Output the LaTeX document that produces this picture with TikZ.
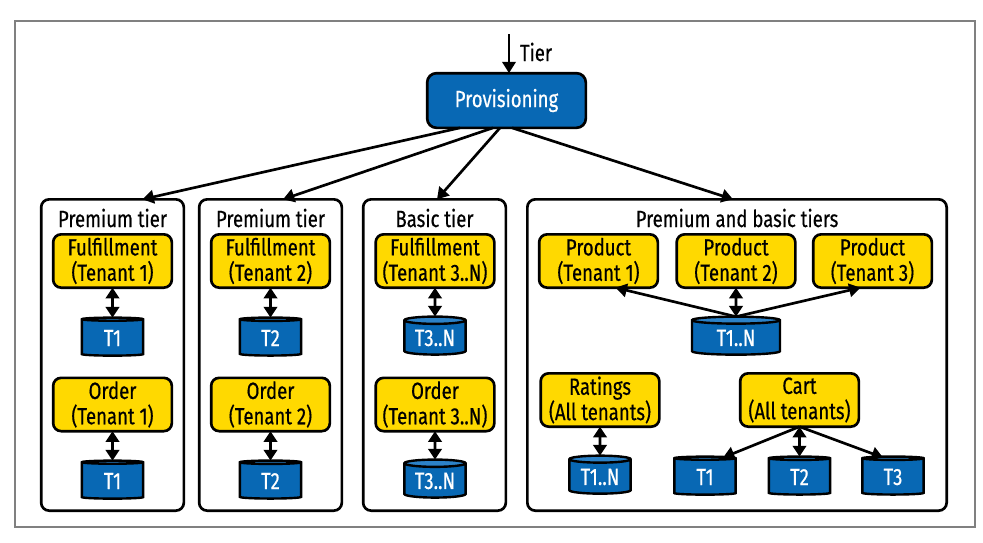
\documentclass[tikz,border=0pt]{standalone}
\usepackage{fontspec}
\setmainfont{Fira Sans}[FakeStretch=0.79,FakeBold=0.45]
\usetikzlibrary{arrows.meta,shapes.geometric,calc}
\definecolor{pblue}{RGB}{8,104,180}
\definecolor{ptop}{RGB}{44,130,200}
\definecolor{pyellow}{RGB}{255,217,0}
\definecolor{framegray}{RGB}{128,128,128}
\begin{document}
\begin{tikzpicture}[x=0.75pt,y=-0.75pt,
  font=\fontsize{17.6}{19}\selectfont,
  every node/.style={inner sep=0pt, outer sep=0pt},
  grp/.style={draw=black, line width=2pt, rounded corners=6pt, fill=white, minimum height=233.5pt},
  ybox/.style={draw=black, line width=2pt, rounded corners=6pt, fill=pyellow, align=center, minimum width=89pt, minimum height=40pt},
  bbox/.style={draw=black, line width=2pt, rounded corners=7pt, fill=pblue, text=white, minimum width=119pt, minimum height=41pt},
  cyl/.style={cylinder, shape border rotate=90, draw=black, line width=1.8pt, cylinder uses custom fill, cylinder body fill=pblue, cylinder end fill=ptop, aspect=0.18, text=white, minimum height=28.5pt, minimum width=46pt},
  arr/.style={line width=2pt, -{Triangle[length=8.5pt,width=10pt]}},
  darr/.style={line width=2pt, {Triangle[length=8pt,width=10pt]}-{Triangle[length=8pt,width=10pt]}}
]
\useasboundingbox (0,0) rectangle (983,543);
\node[draw=framegray, line width=1.5pt, minimum width=720pt, minimum height=380pt] (frame) at (495,274) {};

% provisioning
\node[bbox] (prov) at (506.5,100.5) {Provisioning};
\coordinate (tin) at (509,34);
\draw[arr] (tin) -- (tin |- prov.north);
\node[anchor=west] (tier) at (520,52) {Tier};

% groups
\node[grp, minimum width=107pt] (g1) at (112.5,355) {};
\node[grp, minimum width=107pt] (g2) at (270.5,355) {};
\node[grp, minimum width=107pt] (g3) at (434.5,355) {};
\node[grp, minimum width=314.5pt] (g4) at (737,355) {};

\node (l1) at (112.5,218) {Premium tier};
\node (l2) at (270.5,218) {Premium tier};
\node (l3) at (434.5,218) {Basic tier};
\node (l4) at (737,218) {Premium and basic tiers};

\draw[arr] ($(prov.south)+(-46.5,0)$) -- ($(g1.north)+(30,0)$);
\draw[arr] ($(prov.south)+(-13.5,0)$) -- ($(g2.north)+(12.5,0)$);
\draw[arr] ($(prov.south)+(-6.5,0)$) -- ($(g3.north)+(2.5,0)$);
\draw[arr] ($(prov.south)+(5.5,0)$) -- ($(g4.north)+(-4,0)$);

% group 1
\node[ybox] (f1) at (112.5,261) {Fulfillment\\(Tenant 1)};
\node[cyl] (c1) at (112.5,338) {T1};
\node[ybox] (o1) at (112.5,404.5) {Order\\(Tenant 1)};
\node[cyl] (d1) at (112.5,481) {T1};
\draw[darr] (f1) -- (c1);
\draw[darr] (o1) -- (d1);

% group 2
\node[ybox] (f2) at (270.5,261) {Fulfillment\\(Tenant 2)};
\node[cyl] (c2) at (270.5,338) {T2};
\node[ybox] (o2) at (270.5,404.5) {Order\\(Tenant 2)};
\node[cyl] (d2) at (270.5,481) {T2};
\draw[darr] (f2) -- (c2);
\draw[darr] (o2) -- (d2);

% group 3
\node[ybox] (f3) at (435,261) {Fulfillment\\(Tenant 3..N)};
\node[cyl] (c3) at (435,338) {T3..N};
\node[ybox] (o3) at (435,404.5) {Order\\(Tenant 3..N)};
\node[cyl] (d3) at (435,481) {T3..N};
\draw[darr] (f3) -- (c3);
\draw[darr] (o3) -- (d3);

% group 4
\node[ybox] (p1) at (598.5,261) {Product\\(Tenant 1)};
\node[ybox] (p2) at (736,261) {Product\\(Tenant 2)};
\node[ybox] (p3) at (872.5,261) {Product\\(Tenant 3)};
\node[cyl, minimum width=66pt] (tn) at (736,338) {T1..N};
\draw[arr] (tn.north) -- ($(p1.south)+(17,0)$);
\draw[arr] (tn.north) -- ($(p3.south)+(-12,0)$);
\draw[darr] (p2) -- (tn);

\node[ybox] (rt) at (600,400) {Ratings\\(All tenants)};
\node[cyl] (rc) at (600,477) {T1..N};
\draw[darr] (rt) -- (rc);

\node[ybox] (ca) at (799.5,400) {Cart\\(All tenants)};
\node[cyl] (k1) at (705,477) {T1};
\node[cyl] (k2) at (799.5,477) {T2};
\node[cyl] (k3) at (893,477) {T3};
\draw[arr] (ca.south) -- ($(k1.north)+(18,1)$);
\draw[darr] (ca) -- (k2);
\draw[arr] (ca.south) -- ($(k3.north)+(-10,1)$);
\end{tikzpicture}
\end{document}
